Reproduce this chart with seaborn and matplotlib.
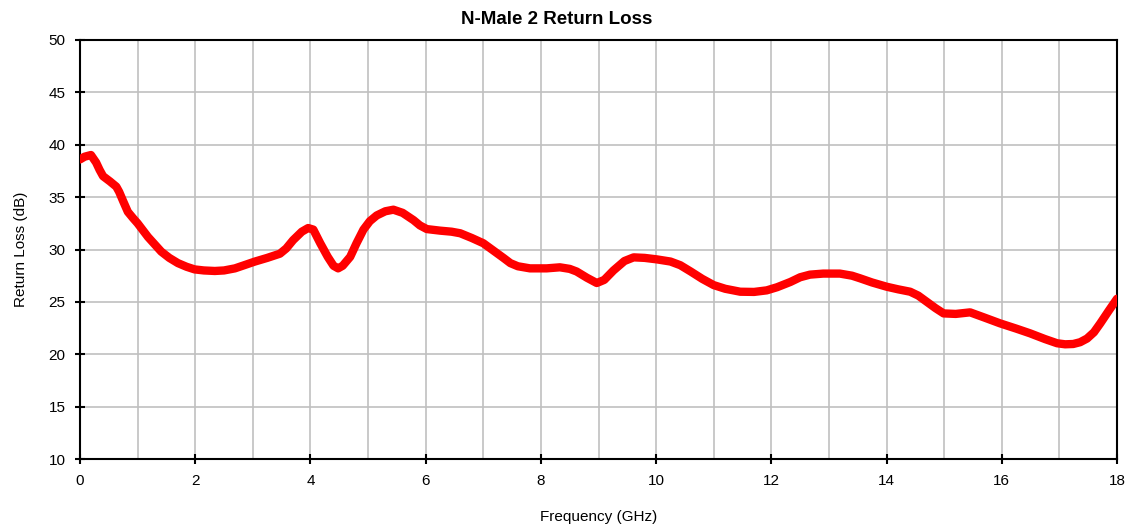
import numpy as np
import pandas as pd
import matplotlib
matplotlib.use("Agg")
import matplotlib.pyplot as plt
from matplotlib.ticker import MultipleLocator
import seaborn as sb

# Return loss (10 points per row)
freq_ghz = [0.0, 0.08, 0.19, 0.28, 0.34, 0.40, 0.52, 0.63, 0.68, 0.75,
            0.83, 0.92, 1.0, 1.18, 1.41, 1.55, 1.70, 1.85, 1.99, 2.15,
            2.34, 2.5, 2.69, 2.85, 3.03, 3.25, 3.47, 3.58, 3.70, 3.85,
            3.96, 4.05, 4.17, 4.30, 4.40, 4.48, 4.56, 4.69, 4.80, 4.92,
            5.03, 5.15, 5.30, 5.44, 5.60, 5.79, 5.90, 6.02, 6.25, 6.45,
            6.60, 6.80, 7.0, 7.2, 7.35, 7.47, 7.6, 7.81, 8.1, 8.33,
            8.50, 8.62, 8.80, 8.97, 9.10, 9.26, 9.45, 9.61, 9.80, 10.01,
            10.25, 10.42, 10.6, 10.8, 11.0, 11.2, 11.46, 11.7, 11.92, 12.1,
            12.33, 12.5, 12.67, 12.9, 13.19, 13.4, 13.54, 13.75, 14.0, 14.2,
            14.41, 14.55, 14.70, 14.85, 14.99, 15.2, 15.45, 15.7, 15.97, 16.25,
            16.49, 16.75, 16.96, 17.1, 17.24, 17.36, 17.48, 17.6, 17.71, 17.85,
            18.0]
return_loss_db = [38.6, 38.86, 39.02, 38.3, 37.6, 37.0, 36.5, 36.0, 35.5, 34.6,
                  33.6, 33.0, 32.5, 31.2, 29.8, 29.2, 28.7, 28.35, 28.1, 28.0,
                  27.95, 28.0, 28.2, 28.5, 28.84, 29.2, 29.6, 30.1, 30.9, 31.7,
                  32.05, 31.9, 30.6, 29.3, 28.45, 28.2, 28.45, 29.3, 30.6, 31.9,
                  32.7, 33.25, 33.65, 33.8, 33.5, 32.8, 32.3, 31.95, 31.8, 31.7,
                  31.55, 31.1, 30.6, 29.8, 29.2, 28.7, 28.4, 28.2, 28.2, 28.3,
                  28.15, 27.9, 27.3, 26.8, 27.1, 28.0, 28.9, 29.25, 29.2, 29.06,
                  28.85, 28.5, 27.9, 27.2, 26.6, 26.25, 25.97, 25.95, 26.1, 26.4,
                  26.9, 27.35, 27.6, 27.7, 27.7, 27.5, 27.25, 26.85, 26.45, 26.2,
                  25.97, 25.6, 25.0, 24.4, 23.9, 23.85, 24.0, 23.5, 22.95, 22.45,
                  22.0, 21.45, 21.05, 20.95, 20.98, 21.15, 21.5, 22.1, 22.95, 24.1,
                  25.3]

df = pd.DataFrame({"freq": freq_ghz, "rl": return_loss_db})

sb.set_style("white")
plt.rcParams["font.family"] = ["Liberation Sans", "DejaVu Sans"]
plt.rcParams["text.color"] = "black"
plt.rcParams["axes.labelcolor"] = "black"

fig = plt.figure(figsize=(11.3, 5.29), dpi=100)
ax = fig.add_axes([0.0708, 0.1323, 0.9177, 0.7921])

sb.lineplot(data=df, x="freq", y="rl", color="#ff0000", linewidth=6,
            solid_joinstyle="round", solid_capstyle="round", ax=ax, zorder=3)

ax.set_xlim(0, 18)
ax.set_ylim(10, 50)
ax.xaxis.set_major_locator(MultipleLocator(2))
ax.xaxis.set_minor_locator(MultipleLocator(1))
ax.yaxis.set_major_locator(MultipleLocator(5))
ax.grid(which="both", axis="x", color="#c0c0c0", linewidth=1.2)
ax.grid(which="major", axis="y", color="#c0c0c0", linewidth=1.2)
ax.tick_params(which="major", bottom=True, left=True, direction="inout",
               length=7, width=1.5, labelsize=11, colors="black", pad=7)
ax.tick_params(which="minor", bottom=False, length=0)
for s in ax.spines.values():
    s.set_color("black")
    s.set_linewidth(1.5)
    s.set_visible(True)

ax.set_xlabel("Frequency (GHz)", fontsize=11, labelpad=16)
ax.set_ylabel("Return Loss (dB)", fontsize=11, labelpad=15)
fig.text(0.493, 0.964, "N-Male 2 Return Loss", fontsize=13.5, fontweight="bold",
         ha="center", va="center", color="black")

plt.savefig("out.png", dpi=100)
